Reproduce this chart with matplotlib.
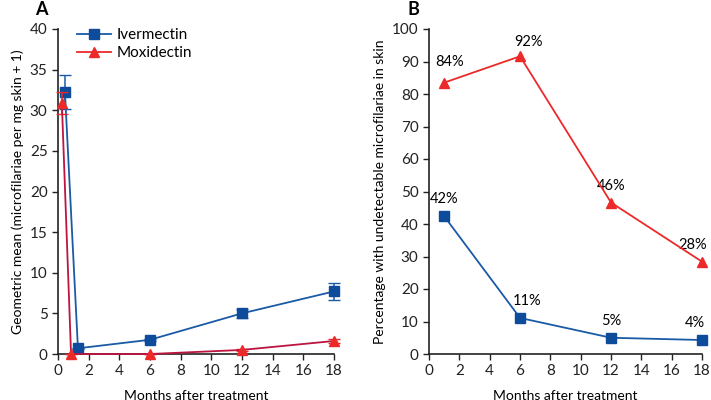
import numpy as np
import matplotlib.pyplot as plt
from matplotlib.lines import Line2D

plt.rcParams['font.family'] = ['Lato', 'DejaVu Sans']
plt.rcParams['font.size'] = 10

blue = "#1a5aa6"
blue_mk = "#0d4b9b"
red = "#ec2a2a"
crimson = "#bd1440"

# panel A: geometric mean
iver_x = [0.45, 1.3, 6, 12, 18]
iver_y = [32.3, 0.7, 1.75, 5.0, 7.7]
iver_lo = [30.1, 0.6, 1.6, 4.4, 6.6]
iver_hi = [34.4, 0.8, 1.9, 5.6, 8.8]

moxi_x = [0.25, 0.85, 6, 12, 18]
moxi_y = [30.9, 0.0, 0.0, 0.5, 1.6]
moxi_lo = [29.5, 0.0, 0.0, 0.4, 1.4]
moxi_hi = [32.3, 0.0, 0.0, 0.6, 1.9]

# panel B: percentage undetectable
months_b = [1, 6, 12, 18]
iver_pct = [42.4, 11.1, 5.0, 4.3]
moxi_pct = [83.5, 91.6, 46.6, 28.4]
iver_lbl = ["42%", "11%", "5%", "4%"]
moxi_lbl = ["84%", "92%", "46%", "28%"]

fig = plt.figure(figsize=(7.11, 4.0), dpi=100)
axA = fig.add_axes([0.0816, 0.115, 0.388, 0.8125])
axB = fig.add_axes([0.6034, 0.115, 0.384, 0.8125])


def style(ax):
    for s in ["top", "right"]:
        ax.spines[s].set_visible(False)
    for s in ["left", "bottom"]:
        ax.spines[s].set_color("#222222")
        ax.spines[s].set_linewidth(1.2)
    ax.tick_params(direction="out", length=4, width=1, colors="#222222", labelsize=11)
    ax.set_xticks(range(0, 19, 2))
    ax.set_xlim(0, 18)
    ax.set_xlabel("Months after treatment", fontsize=10, labelpad=8)


style(axA)
ie = [np.array(iver_y) - np.array(iver_lo), np.array(iver_hi) - np.array(iver_y)]
me = [np.array(moxi_y) - np.array(moxi_lo), np.array(moxi_hi) - np.array(moxi_y)]
axA.errorbar(iver_x, iver_y, yerr=ie, color=blue, lw=1.3, marker="s", ms=7,
             mfc=blue_mk, mec=blue_mk, capsize=4, elinewidth=1.1,
             clip_on=False, zorder=3)
axA.errorbar(moxi_x, moxi_y, yerr=me, color=crimson, ecolor=red, lw=1.3, marker="^", ms=7.5,
             mfc=red, mec=red, capsize=4, elinewidth=1.1,
             clip_on=False, zorder=4)
axA.set_ylim(0, 40)
axA.set_yticks(range(0, 41, 5))
axA.set_ylabel("Geometric mean (microfilariae per mg skin + 1)", fontsize=10)
handles = [Line2D([], [], color=blue, lw=1.3, marker="s", ms=7, mfc=blue_mk, mec=blue_mk),
           Line2D([], [], color=red, lw=1.3, marker="^", ms=7.5)]
axA.legend(handles, ["Ivermectin", "Moxidectin"], loc="upper left",
           bbox_to_anchor=(0.02, 1.045), frameon=False, fontsize=11,
           handlelength=2.2, handletextpad=0.4, labelspacing=0.25)
axA.text(-0.083, 1.043, "A", transform=axA.transAxes, fontsize=13, fontweight="bold")

style(axB)
axB.plot(months_b, moxi_pct, color=red, lw=1.3, marker="^", ms=7.5, clip_on=False, zorder=4)
axB.plot(months_b, iver_pct, color=blue, lw=1.3, marker="s", ms=7, mfc=blue_mk,
         mec=blue_mk, clip_on=False, zorder=3)
moxi_off = [(4, 10), (6, 5), (0, 7), (-7, 7)]
iver_off = [(0, 7), (5, 7), (0, 7), (-5, 7)]
for (x, y, t), off in zip(zip(months_b, moxi_pct, moxi_lbl), moxi_off):
    axB.annotate(t, (x, y), xytext=off, textcoords="offset points", ha="center",
                 va="bottom", fontsize=10.5)
for (x, y, t), off in zip(zip(months_b, iver_pct, iver_lbl), iver_off):
    axB.annotate(t, (x, y), xytext=off, textcoords="offset points", ha="center",
                 va="bottom", fontsize=10.5)
axB.set_ylim(0, 100)
axB.set_yticks(range(0, 101, 10))
axB.set_ylabel("Percentage with undetectable microfilariae in skin", fontsize=10)
axB.text(-0.077, 1.043, "B", transform=axB.transAxes, fontsize=13, fontweight="bold")

fig.savefig("out.png", dpi=100)
